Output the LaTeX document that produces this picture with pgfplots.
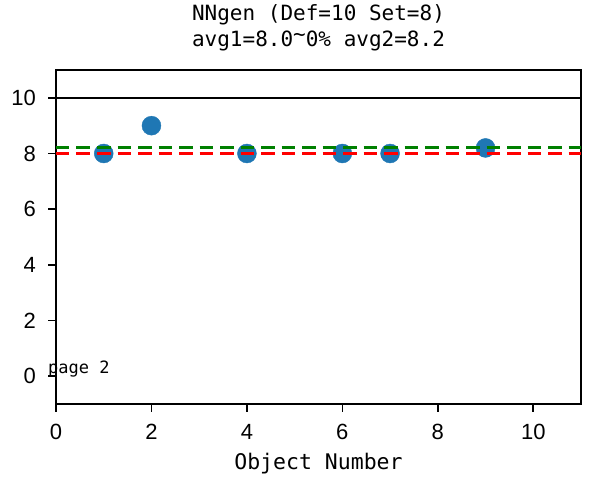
\documentclass[border=0pt]{standalone}
\usepackage{fontspec}
\setmainfont{Liberation Sans}
\newfontfamily\monofont{DejaVu Sans Mono}
\usepackage{pgfplots}
\pgfplotsset{compat=1.18}
\definecolor{tabblue}{HTML}{1F77B4}
\definecolor{mplgreen}{HTML}{008000}
\begin{document}
\begin{tikzpicture}
\useasboundingbox (0,0) rectangle (590pt,479pt);
\begin{axis}[
  at={(56pt,75pt)}, anchor=south west,
  scale only axis, width=525pt, height=334pt,
  xmin=0, xmax=11, ymin=-1, ymax=11,
  xtick={0,2,4,6,8,10}, ytick={0,2,4,6,8,10},
  xtick pos=bottom, ytick pos=left,
  tick align=inside,
  major tick length=-8pt,
  major tick style={black, line width=1.6pt},
  axis line style={line width=1.8pt},
  /pgf/number format/assume math mode=true,
  ticklabel style={font=\fontsize{22}{24}\selectfont},
  yticklabel style={anchor=east, inner sep=0pt, xshift=-20pt},
  xticklabel style={anchor=base, inner sep=0pt, yshift=-36pt},
  xlabel={Object Number},
  xlabel style={font=\monofont\fontsize{21.5}{24}\selectfont, at={(axis description cs:0.5,0)}, anchor=base, yshift=-66pt},
  clip=false, clip mode=individual,
]
\addplot[only marks, mark=*, mark size=9.5pt, color=tabblue, mark options={draw=tabblue, fill=tabblue}]
  coordinates {(1,8) (2,9) (4,8) (6,8) (7,8) (9,8.2)};
\addplot[black, line width=2.5pt] coordinates {(0,10) (11,10)};
\addplot[red, line width=3pt, dash pattern=on 13.5pt off 7pt] coordinates {(0,8) (11,8)};
\addplot[mplgreen, line width=3pt, dash pattern=on 13.5pt off 7pt] coordinates {(0,8.2) (11,8.2)};
\node[anchor=base west, inner sep=0pt, font=\monofont\fontsize{17}{19}\selectfont] at (axis cs:-0.17,0.1) {page 2};
\node[anchor=base, inner sep=0pt, font=\monofont\fontsize{21}{24}\selectfont] at (axis description cs:0.5,1) [yshift=49pt] {NNgen (Def=10 Set=8)};
\node[anchor=base, inner sep=0pt, font=\monofont\fontsize{21}{24}\selectfont] at (axis description cs:0.5,1) [yshift=23pt] {avg1=8.0\raisebox{0.28em}{\char`~}0\% avg2=8.2};
\end{axis}
\end{tikzpicture}
\end{document}
